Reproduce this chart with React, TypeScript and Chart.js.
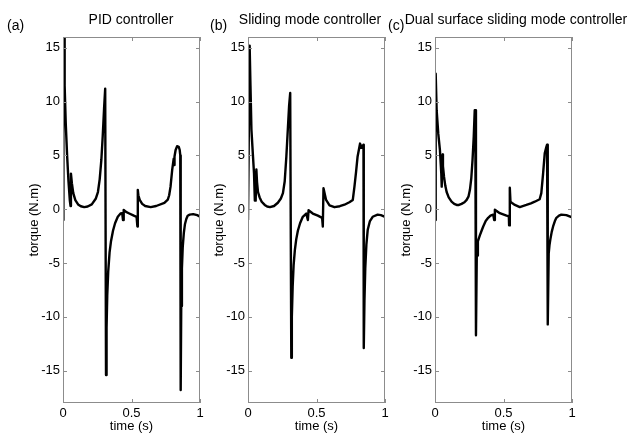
import React, { useEffect, useRef } from "react";
import { Chart, registerables } from "chart.js";

Chart.register(...registerables);

// ---- data (time in s, torque in N.m) ----
const pidTime = [0, 0.003, 0.008, 0.012, 0.02, 0.03, 0.04, 0.05, 0.055, 0.058, 0.065, 0.075, 0.09, 0.11, 0.13, 0.155, 0.18, 0.21, 0.24, 0.255, 0.268, 0.28, 0.29, 0.3, 0.308, 0.309, 0.314, 0.318, 0.323, 0.33, 0.34, 0.35, 0.365, 0.38, 0.4, 0.42, 0.432, 0.438, 0.443, 0.46, 0.48, 0.517, 0.537, 0.543, 0.546, 0.55, 0.56, 0.578, 0.6, 0.64, 0.68, 0.74, 0.765, 0.775, 0.785, 0.797, 0.808, 0.811, 0.814, 0.822, 0.833, 0.845, 0.852, 0.856, 0.859, 0.863, 0.868, 0.874, 0.882, 0.89, 0.9, 0.91, 0.925, 0.95, 0.98, 1.0];
const pidTorque = [-1, 16.5, 16.5, 11.5, 8, 5, 2.6, 0.8, 0.3, 3.3, 2.4, 1.5, 0.85, 0.45, 0.28, 0.2, 0.25, 0.45, 1.0, 1.6, 2.8, 4.6, 6.8, 9.4, 11.2, 11.2, -15.4, -11, -8, -5.8, -4, -3, -2, -1.3, -0.7, -0.4, -0.37, -1, -0.06, -0.25, -0.37, -0.6, -0.7, -1.6, 1.8, 1.3, 0.87, 0.5, 0.3, 0.2, 0.3, 0.6, 0.9, 1.3, 2.1, 3.65, 4.7, 4.1, 4.9, 5.5, 5.85, 5.8, 5.5, 5.0, -16.8, -9, -5.5, -3.5, -2.2, -1.4, -0.9, -0.6, -0.5, -0.45, -0.55, -0.7];

const smcTime = [0, 0.012, 0.018, 0.025, 0.036, 0.044, 0.05, 0.056, 0.061, 0.066, 0.073, 0.085, 0.1, 0.122, 0.14, 0.16, 0.19, 0.218, 0.24, 0.255, 0.268, 0.28, 0.291, 0.3, 0.308, 0.31, 0.316, 0.32, 0.326, 0.333, 0.342, 0.352, 0.364, 0.38, 0.4, 0.425, 0.437, 0.442, 0.473, 0.51, 0.541, 0.546, 0.551, 0.57, 0.595, 0.631, 0.67, 0.704, 0.74, 0.765, 0.777, 0.789, 0.8, 0.818, 0.825, 0.832, 0.838, 0.843, 0.845, 0.85, 0.856, 0.864, 0.874, 0.89, 0.91, 0.946, 0.97, 1.0];
const smcTorque = [-1, 15.2, 11.5, 7.4, 5.0, 3.3, 0.8, 0.8, 3.7, 2.5, 1.6, 1.1, 0.7, 0.4, 0.25, 0.2, 0.3, 0.6, 1.0, 1.5, 2.6, 4.9, 7.5, 9.6, 10.8, 10.8, -13.8, -10, -7.2, -5.2, -3.8, -2.8, -2.0, -1.3, -0.7, -0.4, -1, -0.1, -0.4, -0.6, -0.8, -1.6, 1.95, 0.86, 0.35, 0.19, 0.28, 0.42, 0.65, 0.86, 2.1, 3.5, 4.9, 6.1, 5.7, 5.9, 5.8, 6.0, -12.9, -8.5, -5.5, -3.3, -1.9, -1.1, -0.7, -0.5, -0.55, -0.7];

const dsmcTime = [0, 0.005, 0.012, 0.024, 0.036, 0.046, 0.049, 0.056, 0.058, 0.066, 0.075, 0.085, 0.1, 0.121, 0.14, 0.158, 0.175, 0.194, 0.215, 0.231, 0.245, 0.255, 0.265, 0.274, 0.283, 0.29, 0.294, 0.299, 0.306, 0.309, 0.313, 0.32, 0.328, 0.34, 0.352, 0.37, 0.388, 0.405, 0.425, 0.432, 0.437, 0.473, 0.522, 0.539, 0.541, 0.546, 0.551, 0.565, 0.583, 0.619, 0.667, 0.7, 0.728, 0.764, 0.776, 0.789, 0.801, 0.813, 0.818, 0.823, 0.83, 0.836, 0.842, 0.852, 0.862, 0.875, 0.886, 0.905, 0.922, 0.959, 1.0];
const dsmcTorque = [-1, 12.6, 9.2, 7.0, 5.5, 3.3, 2.1, 5.1, 4.0, 3.0, 2.2, 1.6, 1.1, 0.7, 0.5, 0.4, 0.4, 0.5, 0.65, 0.87, 1.2, 1.8, 2.9, 4.6, 6.8, 9.2, 9.2, -11.7, -3.0, -4.3, -3.0, -2.7, -2.4, -2.0, -1.6, -1.1, -0.8, -0.6, -0.5, -1.0, -0.05, -0.37, -0.6, -0.65, -1.5, 2.0, 0.7, 0.55, 0.4, 0.2, 0.4, 0.55, 0.7, 0.93, 1.5, 3.3, 5.2, 5.8, 6.0, -10.7, -4.1, -3.3, -2.8, -2.1, -1.6, -1.1, -0.8, -0.6, -0.5, -0.55, -0.75];

const xTickValues = [0, 0.5, 1];
const yTickValues = [-15, -10, -5, 0, 5, 10, 15];
const yMin = -18;
const yMax = 16;

const panelTitles = ["PID controller", "Sliding mode controller", "Dual surface sliding mode controller"];
const panelLetters = ["(a)", "(b)", "(c)"];

const FONT = '"Liberation Sans", Arial, Helvetica, sans-serif';
const FRAME = "#8c8c8c";

const framePlugin = {
  id: "matlabFrame",
  afterDraw(chart: any) {
    const { ctx, chartArea, scales } = chart;
    const { left, right, top, bottom } = chartArea;
    ctx.save();
    ctx.strokeStyle = FRAME;
    ctx.lineWidth = 1;
    ctx.strokeRect(Math.round(left) + 0.5, Math.round(top) + 0.5, Math.round(right - left) - 1, Math.round(bottom - top) - 1);
    const tl = 4;
    ctx.beginPath();
    for (const v of yTickValues) {
      const py = Math.round(scales.y.getPixelForValue(v)) + 0.5;
      ctx.moveTo(left, py); ctx.lineTo(left + tl, py);
      ctx.moveTo(right - tl, py); ctx.lineTo(right, py);
    }
    for (const v of xTickValues) {
      const px = Math.round(scales.x.getPixelForValue(v)) + 0.5;
      ctx.moveTo(px, bottom); ctx.lineTo(px, bottom - tl);
      ctx.moveTo(px, top); ctx.lineTo(px, top + tl);
    }
    ctx.stroke();
    ctx.restore();
  },
};

const CANVAS_W = 203;
const CANVAS_H = 434;

function Panel({ time, torque, left }: { time: number[]; torque: number[]; left: number }) {
  const ref = useRef<HTMLCanvasElement | null>(null);
  useEffect(() => {
    if (!ref.current) return;
    const chart = new Chart(ref.current, {
      type: "line",
      data: {
        datasets: [
          {
            data: time.map((t, i) => ({ x: t, y: torque[i] })),
            borderColor: "#000",
            borderWidth: 2.4,
            pointRadius: 0,
            tension: 0,
            fill: false,
            clip: 0,
            borderJoinStyle: "round",
          } as any,
        ],
      },
      options: {
        animation: false,
        responsive: false,
        maintainAspectRatio: false,
        layout: { padding: { left: 0, right: 4, top: 37, bottom: 0 } },
        plugins: { legend: { display: false }, tooltip: { enabled: false }, title: { display: false } },
        scales: {
          x: {
            type: "linear",
            min: 0,
            max: 1,
            grid: { display: false, drawTicks: false },
            border: { display: false },
            afterBuildTicks: (s: any) => {
              s.ticks = xTickValues.map((v) => ({ value: v }));
            },
            afterFit: (s: any) => {
              s.height = 31;
              s.paddingLeft = 0;
              s.paddingRight = 0;
            },
            ticks: { color: "#000", font: { family: FONT, size: 13 }, padding: 3, maxRotation: 0, callback: (v: any) => String(v) },
            title: { display: true, text: "time (s)", color: "#000", font: { family: FONT, size: 13 }, padding: { top: 0, bottom: 0 } },
          },
          y: {
            type: "linear",
            min: yMin,
            max: yMax,
            grid: { display: false, drawTicks: false },
            border: { display: false },
            afterBuildTicks: (s: any) => {
              s.ticks = yTickValues.map((v) => ({ value: v }));
            },
            afterFit: (s: any) => {
              s.width = 62;
              s.paddingTop = 0;
              s.paddingBottom = 0;
            },
            ticks: { color: "#000", font: { family: FONT, size: 13 }, padding: 3, callback: (v: any) => String(v) },
            title: { display: true, text: "torque (N.m)", color: "#000", font: { family: FONT, size: 13 }, padding: { top: 26, bottom: 0 } },
          },
        },
      } as any,
      plugins: [framePlugin],
    });
    return () => chart.destroy();
  }, [time, torque]);
  return (
    <canvas
      ref={ref}
      width={CANVAS_W}
      height={CANVAS_H}
      style={{ position: "absolute", left, top: 0, width: CANVAS_W, height: CANVAS_H }}
    />
  );
}

const panelLefts = [1, 186, 373];
const titleCenters = [131, 310, 516];
const letterLefts = [7, 210, 388];

export default function App() {
  const series = [
    { time: pidTime, torque: pidTorque },
    { time: smcTime, torque: smcTorque },
    { time: dsmcTime, torque: dsmcTorque },
  ];
  return (
    <div style={{ position: "fixed", left: 0, top: 0, width: 631, height: 434, background: "#fff", fontFamily: FONT, overflow: "hidden" }}>
      {series.map((s, i) => (
        <Panel key={i} time={s.time} torque={s.torque} left={panelLefts[i]} />
      ))}
      {panelTitles.map((t, i) => (
        <div
          key={"t" + i}
          style={{ position: "absolute", left: titleCenters[i], top: 19, transform: "translate(-50%, -50%)", fontSize: 14, lineHeight: 1, whiteSpace: "nowrap", color: "#000" }}
        >
          {t}
        </div>
      ))}
      {panelLetters.map((t, i) => (
        <div
          key={"l" + i}
          style={{ position: "absolute", left: letterLefts[i], top: 25, transform: "translateY(-50%)", fontSize: 14, lineHeight: 1, whiteSpace: "nowrap", color: "#000" }}
        >
          {t}
        </div>
      ))}
    </div>
  );
}
